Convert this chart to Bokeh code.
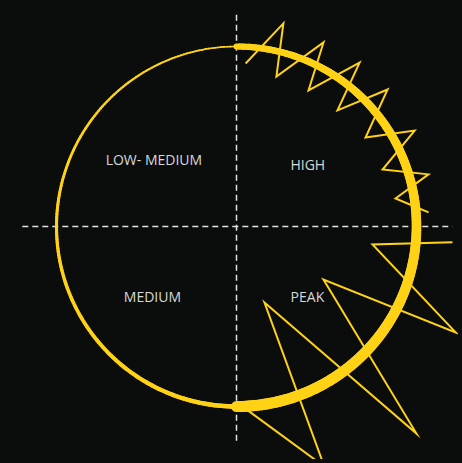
import numpy as np
from bokeh.plotting import figure
from bokeh.models import Range1d
from bokeh.core.properties import value
from bokeh.embed import file_html
from bokeh.resources import INLINE

# ---- data ----
quadrant_labels = ["LOW- MEDIUM", "HIGH", "MEDIUM", "PEAK"]

# zigzag series: angle (deg, clockwise from 12 o'clock), radius (circle radius = 1)
high_angle = [3.2, 13.0, 14.9, 25.3, 27.9, 36.9, 41.0, 47.8, 55.4, 61.7, 68.7, 74.8, 80.0, 85.8]
high_radius = [0.907, 1.158, 0.862, 1.131, 0.855, 1.139, 0.855, 1.133, 0.871, 1.124, 0.871, 1.105, 0.897, 1.070]

peak_angle = [94.2, 97.5, 115.8, 121.4, 139.0, 159.8, 159.9, 180.0]
peak_radius = [1.203, 0.762, 1.352, 0.566, 1.524, 0.450, 1.420, 0.976]

# ---- style / layout ----
BG = "#0b0d0c"
YELLOW = "#ffd215"
PX = 180.0  # pixels per unit radius
W, H = 458, 459

p = figure(width=W, height=H, output_backend="svg", toolbar_location=None,
           x_range=Range1d(-236 / PX, (W - 236) / PX), y_range=Range1d((226 - H) / PX, 226 / PX),
           min_border=0, background_fill_color=BG, border_fill_color=BG)
p.axis.visible = False
p.grid.visible = False
p.outline_line_color = None

# dashed cross
ext = 1.19
p.segment(x0=[-ext, 0], y0=[0, -ext], x1=[ext + 0.01, 0], y1=[0, ext],
          line_color="#e2e2e2", line_width=1.5, line_dash="6 4")

# variable-width ring
th = np.radians(np.linspace(0, 180, 181))
tm = (th[:-1] + th[1:]) / 2
# left half (thin, grows downward)
lx = -np.sin(th); ly = np.cos(th)
lw = 1.6 + 3.0 * (tm / np.pi)
p.segment(x0=lx[:-1], y0=ly[:-1], x1=lx[1:], y1=ly[1:], line_width=lw,
          line_color=YELLOW, line_cap="round")
# right half (thick, grows downward)
rx = np.sin(th); ry = np.cos(th)
rw = 6.0 + 5.0 * np.sin(tm / 2)
p.segment(x0=rx[:-1], y0=ry[:-1], x1=rx[1:], y1=ry[1:], line_width=rw,
          line_color=YELLOW, line_cap="round")

# zigzags
for ang, rad in ((high_angle, high_radius), (peak_angle, peak_radius)):
    a = np.radians(np.array(ang)); r = np.array(rad)
    p.line(r * np.sin(a), r * np.cos(a), line_color=YELLOW, line_width=2, line_join="miter")

# labels
lab_x = [-0.459, 0.396, -0.467, 0.394]
lab_y = [0.375, 0.347, -0.391, -0.391]
p.text(x=lab_x, y=lab_y, text=quadrant_labels, text_align="center", text_baseline="middle",
       text_font=value("Open Sans"), text_font_size="14px", text_color="#d8d8d8")

html = file_html(p, INLINE)
html = html.replace("<head>", "<head><style>html,body{background:%s;}</style>" % BG, 1)
open("out.html", "w").write(html)
